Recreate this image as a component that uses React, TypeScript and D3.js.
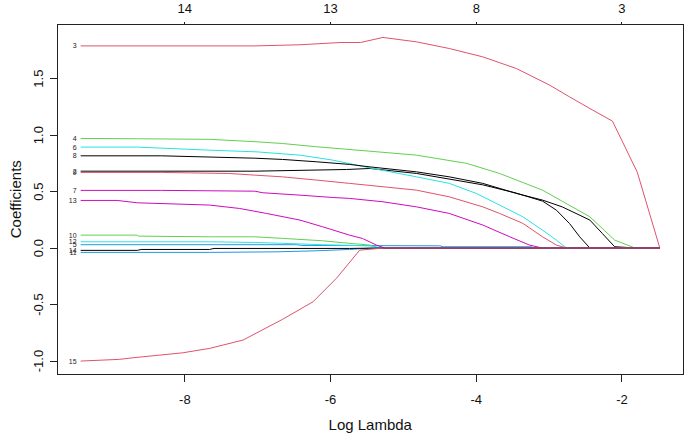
import React from "react";
import * as d3 from "d3";

// ---- data (log lambda, coefficient) ----
const v2: [number, number][] = [[-9.43,0.681],[-7.04,0.681],[-5.78,0.696],[-5.46,0.705],[-4.82,0.661],[-3.91,0.56],[-3.45,0.487],[-3.09,0.416],[-2.9,0.336],[-2.72,0.218],[-2.58,0.1],[-2.44,0],[-1.48,0]];
const v3: [number, number][] = [[-9.43,1.79],[-7.05,1.79],[-6.42,1.8],[-5.87,1.82],[-5.59,1.82],[-5.28,1.865],[-4.82,1.826],[-4.37,1.767],[-3.91,1.693],[-3.45,1.59],[-2.99,1.442],[-2.72,1.339],[-2.4,1.221],[-2.13,1.124],[-1.79,0.673],[-1.48,0]];
const v4: [number, number][] = [[-9.43,0.971],[-8.65,0.968],[-7.66,0.963],[-7.01,0.941],[-6.66,0.926],[-6.19,0.897],[-5.46,0.858],[-4.82,0.823],[-4.13,0.75],[-3.68,0.661],[-3.09,0.513],[-2.44,0.277],[-2.1,0.071],[-1.83,0.003],[-1.8,0],[-1.48,0]];
const v5: [number, number][] = [[-9.43,0.03],[-6.46,0.03],[-6.4,0.024],[-5.46,0.022],[-4.5,0.02],[-4.45,0.012],[-3.24,0.012],[-3.22,0],[-1.48,0]];
const v6: [number, number][] = [[-9.43,0.894],[-8.65,0.894],[-7.66,0.867],[-7.01,0.852],[-6.42,0.823],[-5.97,0.779],[-5.46,0.71],[-4.82,0.631],[-4.37,0.573],[-4.0,0.484],[-3.68,0.381],[-3.36,0.277],[-3.09,0.159],[-2.9,0.071],[-2.76,0],[-1.48,0]];
const v7: [number, number][] = [[-9.43,0.511],[-8.32,0.511],[-7.04,0.504],[-6.93,0.49],[-6.42,0.469],[-5.97,0.448],[-5.74,0.44],[-5.28,0.41],[-4.82,0.365],[-4.37,0.307],[-3.91,0.204],[-3.54,0.1],[-3.27,0.027],[-3.09,0],[-1.48,0]];
const v8: [number, number][] = [[-9.43,0.817],[-8.32,0.817],[-7.04,0.796],[-6.66,0.785],[-6.19,0.764],[-5.74,0.741],[-5.46,0.719],[-4.82,0.675],[-4.37,0.631],[-3.91,0.573],[-3.45,0.484],[-3.09,0.425],[-2.82,0.365],[-2.44,0.248],[-2.27,0.13],[-2.1,0.012],[-1.86,0.003],[-1.83,0],[-1.48,0]];
const v9: [number, number][] = [[-9.43,0.67],[-8.32,0.67],[-7.4,0.661],[-7.04,0.646],[-6.66,0.631],[-6.19,0.602],[-5.74,0.573],[-5.46,0.555],[-4.82,0.513],[-4.37,0.454],[-3.91,0.365],[-3.68,0.307],[-3.36,0.219],[-3.09,0.1],[-2.9,0.027],[-2.76,0],[-1.48,0]];
const v10: [number, number][] = [[-9.43,0.115],[-8.65,0.115],[-8.64,0.106],[-7.66,0.1],[-7.04,0.1],[-6.66,0.086],[-6.11,0.065],[-5.74,0.042],[-5.46,0.027],[-5.37,0.006],[-5.33,0],[-1.48,0]];
const v11: [number, number][] = [[-9.43,-0.038],[-7.66,-0.038],[-6.75,-0.033],[-6.2,-0.024],[-5.74,-0.012],[-5.46,0],[-1.48,0]];
const v12: [number, number][] = [[-9.43,0.056],[-7.66,0.056],[-7.04,0.05],[-6.66,0.042],[-6.11,0.03],[-5.46,0.02],[-5.28,0],[-1.48,0]];
const v13: [number, number][] = [[-9.43,0.422],[-8.93,0.422],[-8.65,0.401],[-7.66,0.381],[-7.25,0.351],[-6.88,0.307],[-6.42,0.248],[-6.11,0.189],[-5.74,0.115],[-5.56,0.085],[-5.37,0.027],[-5.28,0.006],[-5.26,0],[-1.48,0]];
const v14: [number, number][] = [[-9.43,-0.02],[-8.65,-0.02],[-8.6,-0.012],[-7.66,-0.012],[-7.6,-0.003],[-5.74,-0.003],[-5.37,0],[-1.48,0]];
const v15: [number, number][] = [[-9.43,-1.0],[-8.9,-0.985],[-8.71,-0.971],[-8.03,-0.927],[-7.66,-0.888],[-7.2,-0.814],[-6.66,-0.631],[-6.24,-0.475],[-5.92,-0.268],[-5.6,-0.018],[-5.33,-0.003],[-5.26,0],[-1.48,0]];

const VARIABLE_IDS = [2, 3, 4, 5, 6, 7, 8, 9, 10, 11, 12, 13, 14, 15];
const PATHS = [v2, v3, v4, v5, v6, v7, v8, v9, v10, v11, v12, v13, v14, v15];

const LOG_LAMBDA_TICKS = [-8, -6, -4, -2];
const DF_LABELS = ["14", "13", "8", "3"];
const COEF_TICKS = [-1, -0.5, 0, 0.5, 1, 1.5];
const COEF_TICK_LABELS = ["-1.0", "-0.5", "0.0", "0.5", "1.0", "1.5"];

const PALETTE = ["#000000", "#DF536B", "#61D04F", "#2297E6", "#28E2E5", "#CD0BBC"];

const W = 685, H = 434;
const FRAME = { left: 57.5, right: 683, top: 24.5, bottom: 374 };
const FONT = "'Liberation Sans', Arial, Helvetica, sans-serif";

export default function App() {
  const allX = PATHS.flat().map((p) => p[0]);
  const allY = PATHS.flat().map((p) => p[1]);
  const [x0, x1] = d3.extent(allX) as [number, number];
  const [y0, y1] = d3.extent(allY) as [number, number];
  const px = (x1 - x0) * 0.04, py = (y1 - y0) * 0.04;
  const x = d3.scaleLinear().domain([x0 - px, x1 + px]).range([FRAME.left, FRAME.right]);
  const y = d3.scaleLinear().domain([y0 - py, y1 + py]).range([FRAME.bottom, FRAME.top]);
  const line = d3.line<[number, number]>().x((d) => x(d[0])).y((d) => y(d[1]));

  return (
    <svg width={W} height={H} style={{ position: "absolute", left: 0, top: 0, background: "#fff" }} fontFamily={FONT}>
      <rect x={0} y={0} width={W} height={H} fill="#fff" />
      {PATHS.map((p, i) => (
        <path key={VARIABLE_IDS[i]} d={line(p) || ""} fill="none"
          stroke={PALETTE[(VARIABLE_IDS[i] - 2 + 6) % 6]} strokeWidth={1} />
      ))}
      {PATHS.map((p, i) => (
        <text key={"l" + VARIABLE_IDS[i]} x={x(p[0][0]) - 4} y={y(p[0][1])} fontSize={7}
          textAnchor="end" dominantBaseline="central" fill="#222">{VARIABLE_IDS[i]}</text>
      ))}
      <rect x={FRAME.left} y={FRAME.top} width={FRAME.right - FRAME.left} height={FRAME.bottom - FRAME.top}
        fill="none" stroke="#222" strokeWidth={1} shapeRendering="crispEdges" />
      {LOG_LAMBDA_TICKS.map((t, i) => (
        <g key={"bx" + t}>
          <line x1={x(t)} x2={x(t)} y1={FRAME.bottom} y2={FRAME.bottom + 8} stroke="#222" shapeRendering="crispEdges" />
          <text x={x(t)} y={399} fontSize={13} textAnchor="middle" dominantBaseline="central" fill="#111">{String(t).replace("−", "-")}</text>
          <line x1={x(t)} x2={x(t)} y1={FRAME.top} y2={FRAME.top - 3} stroke="#222" shapeRendering="crispEdges" />
          <text x={x(t)} y={8} fontSize={13} textAnchor="middle" dominantBaseline="central" fill="#111">{DF_LABELS[i]}</text>
        </g>
      ))}
      {COEF_TICKS.map((t, i) => (
        <g key={"y" + t}>
          <line x1={FRAME.left} x2={FRAME.left - 8} y1={y(t)} y2={y(t)} stroke="#222" shapeRendering="crispEdges" />
          <text transform={`translate(38,${y(t)}) rotate(-90)`} fontSize={13} textAnchor="middle"
            dominantBaseline="central" fill="#111">{COEF_TICK_LABELS[i]}</text>
        </g>
      ))}
      <text x={(FRAME.left + FRAME.right) / 2} y={424} fontSize={15} textAnchor="middle" dominantBaseline="central" fill="#111">Log Lambda</text>
      <text transform={`translate(15,${(FRAME.top + FRAME.bottom) / 2}) rotate(-90)`} fontSize={15}
        textAnchor="middle" dominantBaseline="central" fill="#111">Coefficients</text>
    </svg>
  );
}
